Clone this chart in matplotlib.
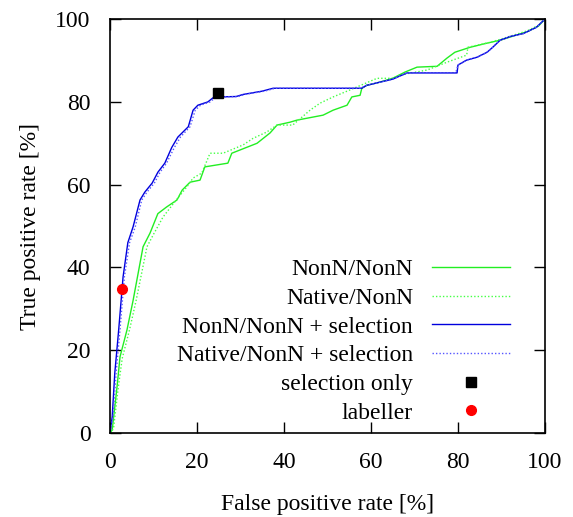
import matplotlib
matplotlib.use('Agg')
import matplotlib.pyplot as plt

# ROC curves (false positive rate, true positive rate) in %
nonn_fpr = [0, 0.5, 1.6, 2.3, 3.9, 5.3, 7.6, 9.2, 11, 13, 15.4, 16.6, 18.4, 20.7, 21.8, 27.1,
            28, 33.8, 36.8, 38.4, 41.4, 43, 49, 51.3, 54.5, 55.6, 57.5, 57.9, 59, 61.4, 65,
            67.8, 70.6, 75.2, 77.5, 79.3, 82.8, 86.7, 89.7, 93, 96, 98.5, 100]
nonn_tpr = [0, 0.7, 11, 18.4, 24.9, 32, 45, 48.3, 53, 54.6, 56.3, 58.7, 60.6, 61.1, 64.3, 65.2,
            67.6, 70, 72.5, 74.4, 75.1, 75.6, 76.8, 78, 79.2, 81.2, 81.6, 83.3, 84, 84.6, 85.7,
            87.2, 88.4, 88.6, 90.6, 92, 93.2, 94.2, 94.9, 96, 97, 98.3, 100]

native_fpr = [0, 0.8, 1.9, 2.8, 4.5, 6, 8.5, 10, 12.2, 15, 17.7, 19.1, 21.1, 23, 26, 30.6,
              32.9, 36, 38.4, 42, 46, 48.3, 51.3, 55.2, 61.4, 65, 66.7, 72.9, 77.5, 82,
              82.3, 87.4, 90, 93, 96, 98.5, 100]
native_tpr = [0, 1, 11, 18, 25, 32, 45, 48, 52.2, 56, 59.5, 61.6, 62.8, 67.6, 67.6, 69.6,
              71.2, 72.7, 74.4, 74.4, 78, 79.7, 81.2, 82.9, 85.7, 85.7, 86.5, 87.7, 89.6, 91.3,
              93.2, 94.4, 95.2, 96.2, 97.2, 98.5, 100]

nonn_sel_fpr = [0, 0.5, 1.1, 2, 3, 4.1, 5.3, 6.9, 8, 9.7, 11, 12.6, 14.2, 15.6, 18, 19.1, 20.2,
                22.5, 23.7, 25, 29, 30.6, 35, 37.5, 57.9, 59, 61.4, 65, 68.3, 79.8, 80, 82,
                84.4, 86.7, 88, 89.7, 92, 95, 98, 100]
nonn_sel_tpr = [0, 3.9, 14.5, 25, 37.7, 46, 49.8, 56.3, 58.2, 60.4, 63, 65.2, 69, 71.5, 74, 78,
                79.2, 80, 81, 81.2, 81.3, 81.8, 82.6, 83.3, 83.3, 84, 84.6, 85.5, 87, 87, 88.9,
                90.1, 90.8, 92, 93.2, 94.9, 95.8, 96.5, 98, 100]

native_sel_fpr = [0, 0.7, 1.4, 2.3, 3.3, 4.5, 5.8, 7.3, 8.5, 10.2, 11.5, 13, 14.8, 16.2, 18.4,
                  19.6, 20.8, 23, 24.2, 25.5, 29.4, 31, 35.5, 38, 57.5, 59, 61.4, 65, 68.3,
                  79.5, 80, 82, 84.4, 86.7, 88, 89.7, 92, 95, 98, 100]
native_sel_tpr = [0, 3.9, 14.5, 25, 37.7, 46, 49.8, 56.3, 58.2, 60.4, 63, 65.2, 69, 71.5, 74,
                  78, 79.2, 80, 81, 81.2, 81.3, 81.8, 82.6, 83.3, 83.3, 84, 84.6, 85.5, 87, 87,
                  88.9, 90.1, 90.8, 92, 93.2, 94.9, 95.8, 96.5, 98, 100]

selection_only = (24.8, 82.1)
labeller = (2.7, 34.8)

plt.rcParams['font.family'] = ['Liberation Serif', 'DejaVu Serif']
plt.rcParams['font.size'] = 17

fig = plt.figure(figsize=(5.73, 5.17), dpi=100)
ax = fig.add_axes([0.192, 0.1625, 0.759, 0.8005])

ax.plot(nonn_fpr, nonn_tpr, color='#22ee22', lw=1.0, label='NonN/NonN')
ax.plot(native_fpr, native_tpr, color='#44ff44', lw=1.0, ls=(0, (1, 1.5)), label='Native/NonN')
ax.plot(nonn_sel_fpr, nonn_sel_tpr, color='#0000dd', lw=1.0, label='NonN/NonN + selection')
ax.plot(native_sel_fpr, native_sel_tpr, color='#5555ff', lw=1.0, ls=(0, (1, 1.5)),
        label='Native/NonN + selection')
ax.plot(*selection_only, 's', color='black', ms=7, ls='none', label='selection only')
ax.plot(*labeller, 'o', color='red', ms=7, ls='none', label='labeller')

ax.set_xlim(0, 100)
ax.set_ylim(0, 100)
ax.set_xticks(range(0, 101, 20))
ax.set_yticks(range(0, 101, 20))
ax.tick_params(direction='in', length=8, width=1, top=True, right=True)
ax.tick_params(axis='x', pad=14)
ax.tick_params(axis='y', pad=14)
for s in ax.spines.values():
    s.set_linewidth(1.2)

ax.set_xlabel('False positive rate [%]', labelpad=15)
ax.set_ylabel('True positive rate [%]', labelpad=10)

leg = ax.legend(loc='lower right', bbox_to_anchor=(0.941, 0.0), frameon=False,
                markerfirst=False, handlelength=3.3, handletextpad=0.8, labelspacing=0.30,
                borderaxespad=0, numpoints=1)
for t in leg.get_texts():
    t.set_ha('right')

fig.savefig('out.png', dpi=100)
